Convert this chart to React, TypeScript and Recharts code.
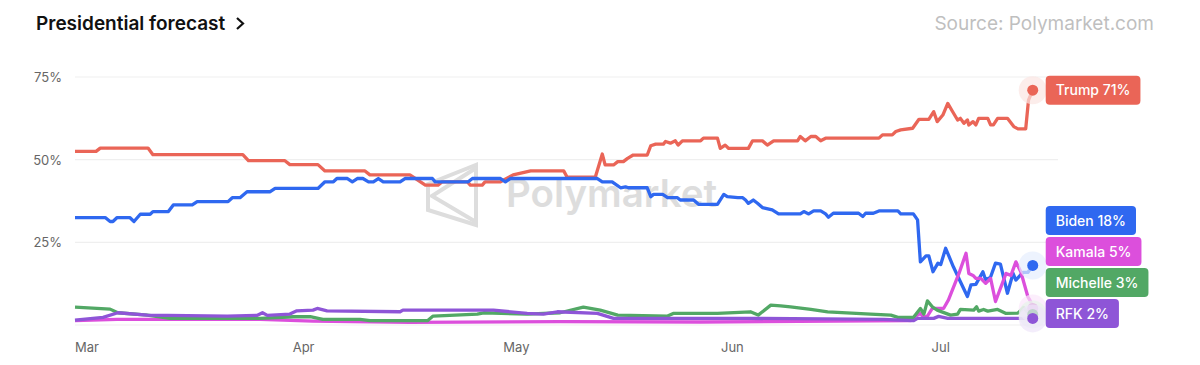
import { LineChart, Line, XAxis, YAxis, CartesianGrid } from "recharts";

// x = days since Mar 1, y = chance in %
const monthTicks = [0, 31, 61, 92, 122];
const monthLabels = ["Mar", "Apr", "May", "Jun", "Jul"];
const pctTicks = [25, 50, 75];

const trump: [number, number][] = [
  [0, 52.5], [3, 52.5], [3.6, 53.5], [10.4, 53.5], [11.1, 51.5], [23.9, 51.5], [24.7, 49.7], [29.9, 49.7],
  [30.6, 48.5], [34.6, 48.5], [35.6, 46.6], [41.3, 46.6], [42, 45.4], [47.7, 45.4], [49.9, 42.3], [51.7, 42.3],
  [52.3, 43.3], [55.9, 43.3], [56.3, 42.3], [58, 42.3], [58.4, 43.3], [60.6, 43.3], [62.4, 45.4], [64.9, 46.6],
  [69.6, 46.6], [70.1, 44.7], [74.1, 44.7], [75.1, 51.7], [75.5, 48.4], [76.7, 48.4], [77.3, 49.4], [78.1, 49.4],
  [78.7, 50.4], [79.5, 51.4], [81.5, 51.4], [82, 54.2], [82.7, 54.7], [83.8, 54.7], [84.1, 55.5], [84.8, 55],
  [85.5, 55.7], [85.9, 54.4], [86.5, 55.7], [89.1, 55.7], [89.5, 56.5], [91.5, 56.5], [91.9, 53.4], [92.6, 54.4],
  [93.1, 53.4], [95.9, 53.4], [96.5, 55.7], [97.9, 55.7], [98.6, 54.4], [99.5, 55.7], [102.9, 55.7], [103.3, 57],
  [104, 55.7], [104.8, 57], [105.5, 57], [106.2, 55.7], [106.9, 56.5], [114.5, 56.5], [115, 57.5], [116.4, 57.5],
  [116.9, 58.5], [117.6, 59], [119.3, 59.5], [120.2, 62.2], [121.6, 62.2], [122.3, 64.5], [122.8, 61.5],
  [123.6, 63.5], [124.3, 67], [125, 64.5], [125.7, 62], [126.1, 62.5], [126.6, 61], [127.1, 62], [127.3, 60.5],
  [127.9, 61.5], [128.3, 60.5], [128.7, 62.5], [130, 62.5], [130.4, 60.5], [130.8, 60.5], [131.4, 62.5],
  [132.8, 62.5], [133.7, 60], [134.3, 59.3], [135.4, 59.3], [135.8, 68], [136.4, 71],
];

const biden: [number, number][] = [
  [0, 32.5], [4.3, 32.5], [5, 31.3], [5.4, 31.3], [6, 32.5], [7.8, 32.5], [8.4, 31.3], [9.3, 33.5], [10.7, 33.5],
  [11.1, 34.3], [13.3, 34.3], [14, 36.3], [16.7, 36.3], [17.4, 37.3], [21.8, 37.3], [22.4, 38.5], [23.5, 38.5],
  [24.5, 40.3], [27.8, 40.3], [28.5, 41.3], [34.6, 41.3], [35.6, 43.3], [36.8, 43.3], [37.3, 44.3], [38.8, 44.3],
  [39.5, 43.3], [40.2, 44.3], [41, 44.3], [41.8, 43.3], [42.5, 43.3], [43.2, 44.3], [43.9, 43.3], [46.3, 43.3],
  [47, 44.3], [50.9, 44.3], [51.3, 43.3], [56, 43.3], [56.6, 44.3], [60.6, 44.3], [61.3, 43.3], [62, 44.3],
  [74.4, 44.3], [75.1, 43.3], [76.5, 43.3], [77.7, 41.5], [78.4, 41.8], [78.8, 41.5], [81.5, 41.5], [82, 38.8],
  [82.4, 39.5], [83.7, 39.5], [84.4, 38.5], [85.8, 38.5], [86.2, 37.8], [88.1, 37.8], [88.8, 36.5], [91.5, 36.5],
  [92.4, 39.5], [92.9, 38.8], [94.4, 38.5], [95.1, 38.5], [95.5, 37.8], [95.9, 36.8], [96.6, 37.8], [97.2, 36.8],
  [97.9, 35.5], [99.3, 34.8], [100.2, 33.6], [103.3, 33.6], [103.8, 34.3], [104.5, 33.6], [105.2, 34.5],
  [106.2, 34.5], [106.9, 33.6], [107.3, 32.6], [108, 33.8], [111.6, 33.8], [112.2, 32.8], [112.6, 33.8],
  [113.7, 33.8], [114.5, 34.5], [117.2, 34.5], [117.6, 33.6], [119.4, 33.6], [120, 31.8], [120.4, 19.1],
  [121.2, 20.9], [121.6, 20.9], [122.2, 16.1], [122.9, 18.7], [123.3, 18.3], [124, 23.2], [125.1, 17.6],
  [126.1, 13.1], [127.1, 8.6], [127.6, 12.1], [128.3, 12.3], [129.3, 16.1], [129.7, 13.6], [130.4, 14.5],
  [131.1, 18.7], [131.8, 18.4], [132.8, 9.6], [133.6, 15.6], [134, 13.6], [135, 15.9], [135.7, 15.9], [136.4, 18],
];

const kamala: [number, number][] = [
  [0, 1.3], [6, 1.7], [26.4, 1.7], [33.9, 1.2], [47.7, 0.8], [69.1, 1], [89.1, 0.9], [119, 1.3], [119.7, 2.7],
  [120.4, 3.5], [120.9, 2.3], [121.4, 2.7], [122.1, 5], [123.7, 5], [124.4, 7.6], [125.9, 15.6], [126.9, 21.7],
  [127.3, 15.6], [127.9, 15], [128.3, 14.1], [129, 14.1], [129.7, 12.6], [130.4, 14.1], [131.1, 7.1],
  [132.6, 15.6], [133.3, 15], [134, 19.1], [134.7, 16.1], [135.7, 8.6], [136.1, 7.1], [136.4, 5],
];

const michelle: [number, number][] = [
  [0, 5.4], [5, 4.8], [6.1, 3.7], [10.3, 3], [13.5, 2], [26.4, 2], [31.1, 2.5], [33.5, 2.5], [35.3, 1.7],
  [40.6, 1.7], [42, 1.3], [50.2, 1.3], [51, 2.7], [57.3, 3.3], [58.2, 3.7], [64.4, 3.3], [69.1, 3.7], [72.4, 5.4],
  [74.8, 4.5], [77.3, 3], [84.4, 2.7], [85.2, 3.5], [91.5, 3.5], [96.2, 4], [97.3, 3], [99.1, 6], [100.5, 5.8],
  [101.9, 5.5], [104.8, 4.7], [107.2, 4], [113.3, 3.3], [116.2, 3], [117.2, 2.3], [119.4, 2.3], [120.4, 5],
  [120.9, 3.3], [121.4, 7.3], [122.1, 5.5], [122.8, 4.5], [124.7, 3], [125.7, 3.3], [126.1, 4.7], [128, 4.5],
  [128.4, 5.5], [128.7, 4.2], [129.4, 4.7], [130, 4.2], [131.4, 4.7], [132.6, 3.5], [134.3, 3.6], [135.1, 5.3],
  [135.7, 3.7], [136.4, 3.2],
];

const rfk: [number, number][] = [
  [0, 1.5], [4, 2.3], [6.1, 3.7], [10.3, 3], [21.7, 2.7], [25.9, 2.9], [26.7, 3.7], [27.4, 2.9], [30.6, 3.3],
  [31.6, 4.3], [33.9, 4.5], [34.5, 5], [35.9, 4.3], [46.3, 4], [46.7, 4.5], [59.6, 4.5], [64.4, 3.5], [66.7, 3.3],
  [68.7, 4], [74.4, 3.5], [76.7, 2], [96.2, 2], [115.2, 1.7], [119.4, 1.3], [120, 2], [122.3, 2], [123, 2.6],
  [124.3, 2], [136.4, 2],
];

const series = [
  { key: "trump", name: "Trump", color: "#EA6557", halo: "#FBE6E3", points: trump },
  { key: "biden", name: "Biden", color: "#2F68F0", halo: "#E6EEFD", points: biden },
  { key: "kamala", name: "Kamala", color: "#DC4FDC", halo: "#FBE7FB", points: kamala },
  { key: "michelle", name: "Michelle", color: "#52A865", halo: "#E7F4EA", points: michelle },
  { key: "rfk", name: "RFK", color: "#8E55D7", halo: "#EEE6FA", points: rfk },
];

const W = 1200;
const H = 365;
const PLOT_TOP = 77;
const PLOT_H = 248;
const Y_MAX = 75;
const TAG_H = 29;
const TAG_GAP = 2;
const FONT = "Inter, 'Noto Sans', sans-serif";
const TAG_FONT = "500 14px Inter";

let measureCtx: CanvasRenderingContext2D | null = null;
function textWidth(t: string) {
  if (typeof document !== "undefined") {
    measureCtx = measureCtx || document.createElement("canvas").getContext("2d");
    if (measureCtx) {
      measureCtx.font = TAG_FONT;
      return measureCtx.measureText(t).width;
    }
  }
  return t.length * 8;
}

// end tags are stacked upward from the bottom so they never overlap
const tagOffsets = (() => {
  const px = PLOT_H / Y_MAX;
  const items = series
    .map((s, i) => ({ i, y: -s.points[s.points.length - 1][1] * px }))
    .sort((a, b) => b.y - a.y);
  const out: number[] = [];
  let prev = -TAG_H / 2 + 3 + TAG_H + TAG_GAP;
  for (const it of items) {
    const c = Math.min(it.y, prev - TAG_H - TAG_GAP);
    out[it.i] = c - it.y;
    prev = c;
  }
  return out;
})();

function MonthTick({ x, y, payload }: any) {
  return (
    <text x={x} y={y + 25} textAnchor="start" fill="#666" fontSize={13} fontFamily={FONT}>
      {monthLabels[monthTicks.indexOf(payload.value)]}
    </text>
  );
}

function PctTick({ x, y, payload }: any) {
  return (
    <text x={x} y={y + 5} textAnchor="end" fill="#666" fontSize={13} fontFamily={FONT}>
      {payload.value}%
    </text>
  );
}

function endDot(si: number) {
  const s = series[si];
  const last = s.points.length - 1;
  return (p: any) => {
    if (p.index !== last) return <g key={`${s.key}-${p.index}`} />;
    const label = `${s.name} ${Math.round(s.points[last][1])}%`;
    const w = textWidth(label) + 20;
    const ty = p.cy + tagOffsets[si];
    return (
      <g key={`${s.key}-end`}>
        <circle cx={p.cx} cy={p.cy} r={14} fill={s.halo} opacity={0.7} />
        <circle cx={p.cx} cy={p.cy} r={5.5} fill={s.color} />
        <rect x={p.cx + 13} y={ty - TAG_H / 2} width={w} height={TAG_H} rx={4} fill={s.color} />
        <text x={p.cx + 23} y={ty + 5} fill="#fff" fontSize={14} fontWeight={500} fontFamily={FONT}>
          {label}
        </text>
      </g>
    );
  };
}

export default function App() {
  return (
    <div style={{ position: "absolute", left: 0, top: 0, width: W, height: H, background: "#fff", fontFamily: FONT }}>
      <svg width={W} height={H} style={{ position: "absolute", left: 0, top: 0 }}>
        <text x={36} y={30} fontSize={19} fontWeight={600} fill="#111" fontFamily={FONT}>
          Presidential forecast
        </text>
        <path d="M237 18 L243 23.5 L237 29" fill="none" stroke="#111" strokeWidth={2.2} />
        <text x={1154} y={30} fontSize={19} textAnchor="end" fill="#BFBFBF" fontFamily={FONT}>
          Source: Polymarket.com
        </text>
        <g stroke="#DDDDDD" strokeWidth={4} fill="none" strokeLinejoin="miter">
          <path d="M428 184 L476 165 L476 225 L428 210 Z" />
          <path d="M476 168 L432 196 L476 222" />
        </g>
        <text x={506} y={207} fontSize={38.5} fontWeight={600} fill="#DDDDDD" fontFamily={FONT}>
          Polymarket
        </text>
      </svg>
      <div style={{ position: "absolute", left: 0, top: 0 }}>
        <LineChart width={W} height={H} margin={{ top: PLOT_TOP, right: 142, bottom: 10, left: 36 }}>
          <CartesianGrid vertical={false} stroke="#EFEFEF" strokeWidth={1.2} />
          <XAxis
            dataKey="d"
            type="number"
            domain={[0, 140]}
            ticks={monthTicks}
            tick={<MonthTick />}
            tickLine={false}
            axisLine={false}
            tickSize={0}
            height={30}
            allowDuplicatedCategory={false}
          />
          <YAxis
            type="number"
            domain={[0, Y_MAX]}
            ticks={pctTicks}
            tick={<PctTick />}
            tickLine={false}
            axisLine={false}
            tickSize={0}
            tickMargin={13}
            width={39}
          />
          {series.map((s, i) => (
            <Line
              key={s.key}
              data={s.points.map(([d, v]) => ({ d, v }))}
              dataKey="v"
              type="linear"
              stroke={s.color}
              strokeWidth={3.3}
              strokeLinejoin="round"
              dot={endDot(i)}
              activeDot={false}
              isAnimationActive={false}
            />
          ))}
        </LineChart>
      </div>
    </div>
  );
}
